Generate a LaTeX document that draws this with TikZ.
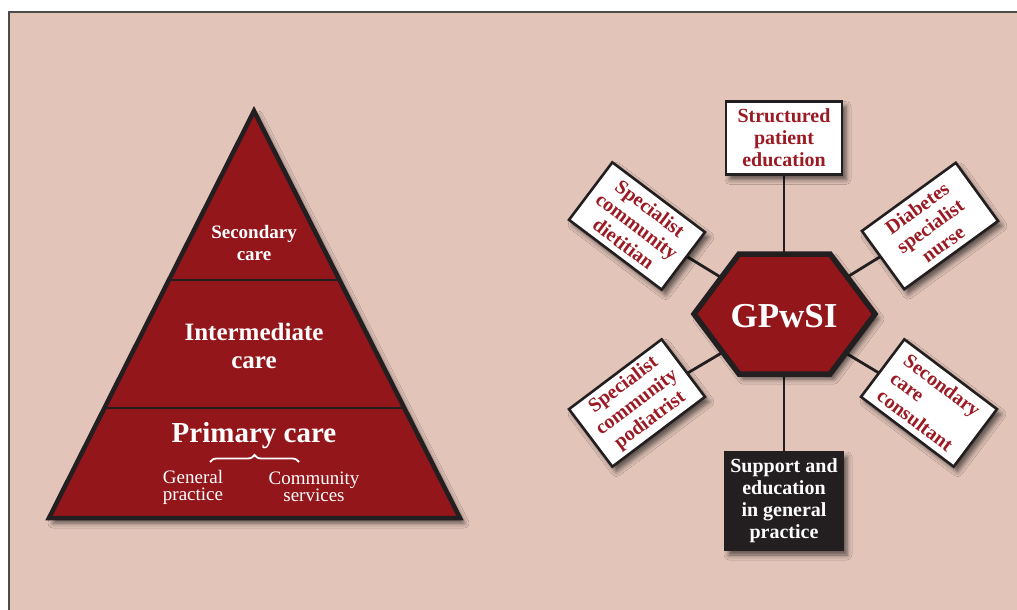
\documentclass[tikz,border=0pt]{standalone}
\usepackage{fontspec}
\setmainfont{Liberation Serif}
\usetikzlibrary{positioning, shadows.blur, decorations.pathreplacing}

\definecolor{paper}{RGB}{226,196,185}
\definecolor{carered}{RGB}{147,22,27}
\definecolor{inkred}{RGB}{155,27,36}
\definecolor{ink}{RGB}{35,31,32}

\pgfdeclarelayer{links}
\pgfsetlayers{links,main}

\tikzset{
  softshadow/.style={blur shadow={shadow xshift=4pt, shadow yshift=-5pt, shadow blur radius=5pt,
    shadow opacity=60}},
  tiertext/.style={text=white, font=\fontsize{19}{22}\selectfont\bfseries, align=center},
  rolebox/.style={draw=ink, line width=2.6pt, fill=white, text=inkred, align=center,
    font=\fontsize{20}{22}\selectfont\bfseries, minimum width=116pt, minimum height=72pt,
    inner sep=2pt, softshadow},
  link/.style={draw=ink, line width=2.8pt},
}

\begin{document}
\begin{tikzpicture}[x=1pt, y=-1pt]
    \useasboundingbox (0,0) rectangle (1017,610);

    % 金字塔
    \filldraw[fill=carered, draw=ink, line width=4.5pt, line join=miter, softshadow]
        (254,111) -- (460,518) -- (49,518) -- cycle;
    \draw[ink, line width=2.5pt] (169,280) -- (339,280);
    \draw[ink, line width=2.5pt] (104,408) -- (404,408);

    \node[tiertext] (secondary) at (254,243) {Secondary\\care};
    \node[tiertext, font=\fontsize{25}{28}\selectfont\bfseries] (intermediate) at (254,346) {Intermediate\\care};
    \node[tiertext, font=\fontsize{29}{30}\selectfont\bfseries] (primary) at (254,436) {Primary care};
    \node[tiertext, font=\fontsize{19}{17}\selectfont] (general) at (193,487) {General\\practice};
    \node[tiertext, font=\fontsize{19}{17}\selectfont] (community) at (314,487) {Community\\services};
    \draw[white, line width=1.8pt, decorate, decoration={brace, amplitude=7pt}] (210,462) -- (299,462);

    % --- GPwSI 六边形 ---
    \filldraw[fill=carered, draw=ink, line width=5.5pt, line join=miter, softshadow]
        (739,254) -- (830,254) -- (875,314) -- (830,374) -- (739,374) -- (694,314) -- cycle;
    \node[text=white, font=\fontsize{35}{36}\selectfont\bfseries] (gpwsi) at (784,316) {GPwSI};

    % 周围的方框
    \node[rolebox, minimum height=73pt] (structured) at (784,138) {Structured\\patient\\education};
    \node[rolebox, rotate=-37] (dietitian) at (637,226) {Specialist\\community\\dietitian};
    \node[rolebox, rotate=36] (nurse) at (930,226) {Diabetes\\specialist\\nurse};
    \node[rolebox, rotate=37] (podiatrist) at (637,403) {Specialist\\community\\podiatrist};
    \node[rolebox, rotate=-37, align=left] (consultant) at (929,403) {Secondary\\care\\consultant};
    \node[rolebox, fill=ink, text=white, minimum width=118pt, minimum height=98pt] (support) at (784,501)
        {Support and\\education\\in general\\practice};

    % 底色与连线
    \begin{pgfonlayer}{links}
        \fill[white] (0,0) rectangle (1017,610);
        \fill[paper] (9,12) rectangle (1017,610);
        \draw[gray!60!black, line width=1.5pt] (9,610) -- (9,12) -- (1017,12);
        \foreach \role in {structured, dietitian, nurse, podiatrist, consultant, support}
            \draw[link] (gpwsi.center) -- (\role.center);
    \end{pgfonlayer}
\end{tikzpicture}
\end{document}
